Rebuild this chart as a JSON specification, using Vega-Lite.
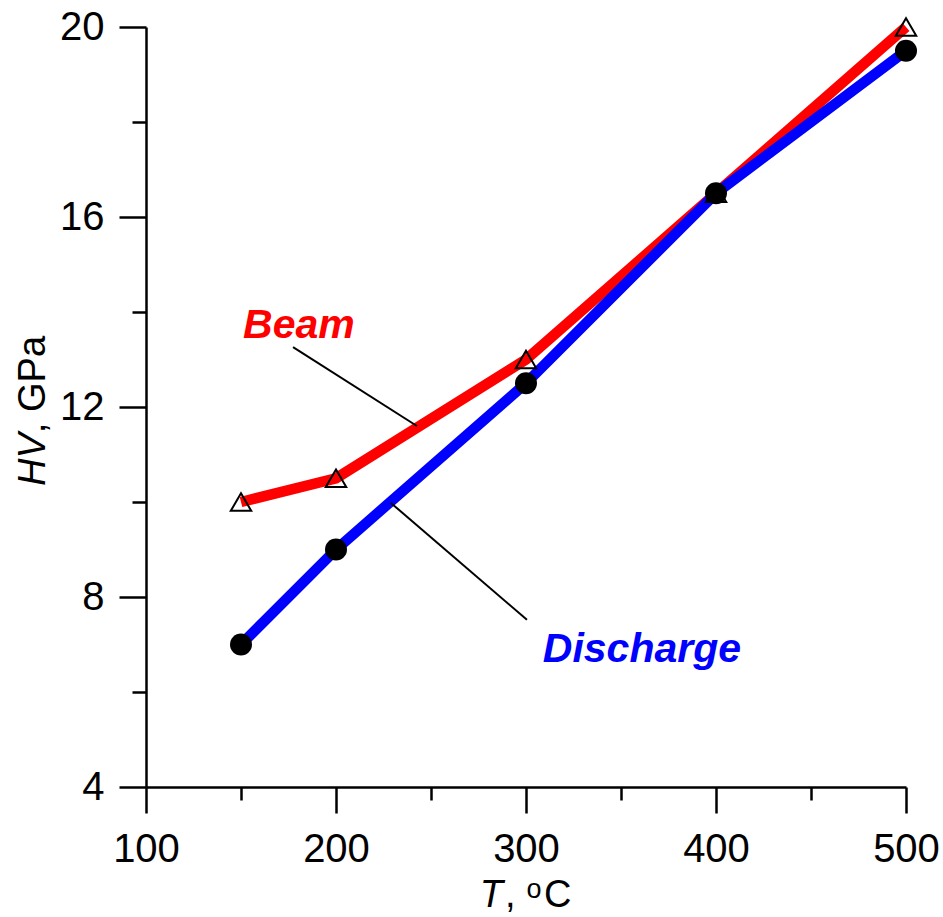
{
  "$schema": "https://vega.github.io/schema/vega-lite/v6.json",
  "width": 760,
  "height": 760,
  "autosize": {"type": "none"},
  "padding": {"left": 146, "top": 27, "right": 37, "bottom": 130},
  "background": "white",
  "config": {"view": {"stroke": null}},
  "datasets": {
    "hv": [
      {"T": 150, "HV": 10.0, "series": "Beam"},
      {"T": 200, "HV": 10.5, "series": "Beam"},
      {"T": 300, "HV": 13.0, "series": "Beam"},
      {"T": 400, "HV": 16.5, "series": "Beam"},
      {"T": 500, "HV": 20.0, "series": "Beam"},
      {"T": 150, "HV": 7.0, "series": "Discharge"},
      {"T": 200, "HV": 9.0, "series": "Discharge"},
      {"T": 300, "HV": 12.5, "series": "Discharge"},
      {"T": 400, "HV": 16.5, "series": "Discharge"},
      {"T": 500, "HV": 19.5, "series": "Discharge"}
    ],
    "leaders": [
      {"T": 177.4, "HV": 13.26, "T2": 242.6, "HV2": 11.6},
      {"T": 228.9, "HV": 9.98, "T2": 300.5, "HV2": 7.52}
    ],
    "labels": [
      {"T": 180.5, "HV": 13.45, "label": "Beam", "series": "Beam"},
      {"T": 361.0, "HV": 6.63, "label": "Discharge", "series": "Discharge"}
    ],
    "titleItalic": [
      {"T": 287.9, "HV": 1.474, "label": "T"}
    ],
    "titleRegular": [
      {"T": 289.0, "HV": 1.474, "label": ","},
      {"T": 309.5, "HV": 1.474, "label": "C"}
    ],
    "titleSup": [
      {"T": 300.3, "HV": 1.663, "label": "o"}
    ],
    "yTitleItalic": [
      {"T": 46.8, "HV": 11.45, "label": "HV"}
    ],
    "yTitleRegular": [
      {"T": 46.8, "HV": 11.45, "label": ", GPa"}
    ]
  },
  "encoding": {
    "x": {
      "field": "T",
      "type": "quantitative",
      "scale": {"domain": [100, 500], "nice": false, "zero": false},
      "axis": {
        "title": null,
        "values": [100, 150, 200, 250, 300, 350, 400, 450, 500],
        "labelExpr": "datum.value % 100 === 0 ? datum.label : ''",
        "tickSize": {"condition": {"test": "datum.value % 100 === 0", "value": 26}, "value": 13},
        "tickWidth": 2.5,
        "tickColor": "black",
        "domainColor": "black",
        "domainWidth": 2.5,
        "grid": false,
        "labelFont": "Liberation Sans",
        "labelFontSize": 40,
        "labelColor": "black",
        "labelFlush": false,
        "labelOverlap": false,
        "labelPadding": 16
      }
    },
    "y": {
      "field": "HV",
      "type": "quantitative",
      "scale": {"domain": [4, 20], "nice": false, "zero": false},
      "axis": {
        "title": null,
        "values": [4, 6, 8, 10, 12, 14, 16, 18, 20],
        "labelExpr": "datum.value % 4 === 0 ? datum.label : ''",
        "tickSize": {"condition": {"test": "datum.value % 4 === 0", "value": 27}, "value": 14},
        "tickWidth": 2.5,
        "tickColor": "black",
        "domainColor": "black",
        "domainWidth": 2.5,
        "grid": false,
        "labelFont": "Liberation Sans",
        "labelFontSize": 40,
        "labelColor": "black",
        "labelFlush": false,
        "labelOverlap": false,
        "labelPadding": 15
      }
    }
  },
  "layer": [
    {
      "data": {"name": "hv"},
      "mark": {"type": "line", "strokeWidth": 10.5, "clip": false},
      "encoding": {
        "color": {
          "field": "series",
          "type": "nominal",
          "scale": {"domain": ["Beam", "Discharge"], "range": ["#ff0000", "#0000ff"]},
          "legend": null
        }
      }
    },
    {
      "data": {"name": "hv"},
      "transform": [{"filter": "datum.series === 'Beam'"}],
      "mark": {"type": "point", "shape": "triangle-up", "filled": false, "stroke": "black", "strokeWidth": 2, "size": 420, "opacity": 1, "clip": false}
    },
    {
      "data": {"name": "hv"},
      "transform": [{"filter": "datum.series === 'Discharge'"}],
      "mark": {"type": "point", "shape": "circle", "filled": true, "color": "black", "size": 484, "opacity": 1, "clip": false}
    },
    {
      "data": {"name": "leaders"},
      "mark": {"type": "rule", "color": "black", "strokeWidth": 2},
      "encoding": {
        "x2": {"field": "T2"},
        "y2": {"field": "HV2"}
      }
    },
    {
      "data": {"name": "labels"},
      "mark": {"type": "text", "font": "Liberation Sans", "fontSize": 41, "fontWeight": "bold", "fontStyle": "italic", "align": "center", "baseline": "alphabetic"},
      "encoding": {
        "text": {"field": "label"},
        "color": {
          "field": "series",
          "type": "nominal",
          "scale": {"domain": ["Beam", "Discharge"], "range": ["#ff0000", "#0000ff"]},
          "legend": null
        }
      }
    },
    {
      "data": {"name": "titleItalic"},
      "mark": {"type": "text", "font": "Liberation Sans", "fontSize": 38, "fontStyle": "italic", "align": "right", "baseline": "alphabetic", "color": "black", "clip": false},
      "encoding": {"text": {"field": "label"}}
    },
    {
      "data": {"name": "titleRegular"},
      "mark": {"type": "text", "font": "Liberation Sans", "fontSize": 38, "align": "left", "baseline": "alphabetic", "color": "black", "clip": false},
      "encoding": {"text": {"field": "label"}}
    },
    {
      "data": {"name": "titleSup"},
      "mark": {"type": "text", "font": "Liberation Sans", "fontSize": 27, "align": "left", "baseline": "alphabetic", "color": "black", "clip": false},
      "encoding": {"text": {"field": "label"}}
    },
    {
      "data": {"name": "yTitleItalic"},
      "mark": {"type": "text", "font": "Liberation Sans", "fontSize": 38, "fontStyle": "italic", "align": "right", "baseline": "alphabetic", "angle": 270, "color": "black", "clip": false},
      "encoding": {"text": {"field": "label"}}
    },
    {
      "data": {"name": "yTitleRegular"},
      "mark": {"type": "text", "font": "Liberation Sans", "fontSize": 38, "align": "left", "baseline": "alphabetic", "angle": 270, "color": "black", "clip": false},
      "encoding": {"text": {"field": "label"}}
    }
  ]
}
